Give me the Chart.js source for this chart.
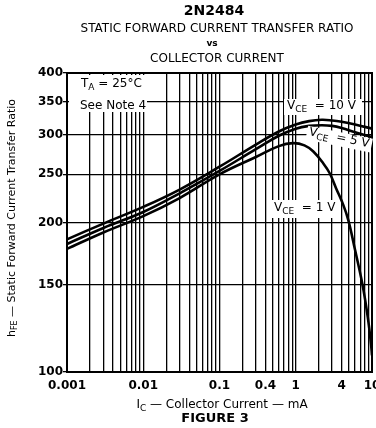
<!DOCTYPE html>
<html>
<head>
<meta charset="utf-8">
<script src="https://cdn.jsdelivr.net/npm/chart.js@4"></script>
<style>
  html, body { margin: 0; padding: 0; background: #fff; }
  canvas { display: block; }
</style>
</head>
<body>
<canvas id="chart" width="376" height="428"></canvas>
<script>
// collector current (mA) and hFE
const currentMain = [0.001, 0.003, 0.01, 0.03, 0.1, 0.3, 0.6, 1, 1.5, 2.2, 3, 4, 6, 10];
const hfeVce10 = [185, 199, 215, 233, 259, 287, 305, 315, 320, 322, 321, 319, 315, 309];
const hfeVce5 = [181, 195, 210, 229, 254, 281, 299, 309, 313, 314, 313, 310, 304, 297];

const currentVce1 = [0.001, 0.003, 0.01, 0.03, 0.1, 0.3, 0.6, 0.92, 1.3, 1.7, 2.3, 2.8, 3.4, 4.2, 4.9, 6, 7.5, 8.8, 9.7, 10];
const hfeVce1 = [177, 191, 206, 224, 250, 271, 285, 289, 286, 278, 263, 251, 234, 217, 202, 176, 150, 129, 114, 108];

const yTicks = [100, 150, 200, 250, 300, 350, 400];
const xLabels = [0.001, 0.01, 0.1, 0.4, 1, 4, 10];

const FONT = '"DejaVu Sans", sans-serif';

const toPoints = (xs, ys) => xs.map((x, i) => ({ x: x, y: ys[i] }));

// text with subscripts: parts = [[text, isSub], ...]
function drawParts(ctx, parts, x, y, size, weight, align) {
  const subSize = Math.round(size * 0.72);
  let total = 0;
  parts.forEach(p => {
    ctx.font = weight + ' ' + (p[1] ? subSize : size) + 'px ' + FONT;
    total += ctx.measureText(p[0]).width;
  });
  let cx = align === 'center' ? x - total / 2 : (align === 'right' ? x - total : x);
  ctx.textAlign = 'left';
  ctx.textBaseline = 'middle';
  parts.forEach(p => {
    ctx.font = weight + ' ' + (p[1] ? subSize : size) + 'px ' + FONT;
    ctx.fillText(p[0], cx, p[1] ? y + size * 0.3 : y);
    cx += ctx.measureText(p[0]).width;
  });
}

const whiteBoxes = {
  id: 'whiteBoxes',
  beforeDatasetsDraw(chart) {
    const ctx = chart.ctx;
    ctx.save();
    ctx.fillStyle = '#fff';
    ctx.fillRect(69, 75, 78, 37);
    ctx.fillRect(284, 99, 78, 16);
    ctx.fillRect(272, 200, 62, 18);
    ctx.restore();
  },
  afterDatasetsDraw(chart) {
    const ctx = chart.ctx;
    const a = chart.chartArea;
    ctx.save();
    ctx.strokeStyle = '#000';
    ctx.lineWidth = 2;
    ctx.strokeRect(a.left, a.top, a.right - a.left, a.bottom - a.top);
    ctx.fillStyle = '#000';

    // labels inside the plot
    drawParts(ctx, [['T', 0], ['A', 1], [' = 25°C', 0]], 81, 84, 12, 'normal', 'left');
    drawParts(ctx, [['See Note 4', 0]], 80, 106, 12, 'normal', 'left');
    drawParts(ctx, [['V', 0], ['CE', 1], ['  = 10 V', 0]], 287, 106, 12, 'normal', 'left');
    drawParts(ctx, [['V', 0], ['CE', 1], ['  = 1 V', 0]], 274, 208, 12, 'normal', 'left');

    // tilted 5 V label with its own white ground
    ctx.translate(309, 132);
    ctx.rotate(0.2);
    ctx.fillStyle = '#fff';
    ctx.fillRect(-2, -6, 66, 14);
    ctx.fillStyle = '#000';
    drawParts(ctx, [['V', 0], ['CE', 1], ['  = 5 V', 0]], 0, 0, 12, 'normal', 'left');
    ctx.restore();
  }
};

const titles = {
  id: 'titles',
  afterDraw(chart) {
    const ctx = chart.ctx;
    ctx.save();
    ctx.fillStyle = '#000';
    drawParts(ctx, [['2N2484', 0]], 214, 11, 14, 'bold', 'center');
    drawParts(ctx, [['STATIC FORWARD CURRENT TRANSFER RATIO', 0]], 217, 29, 12, 'normal', 'center');
    drawParts(ctx, [['vs', 0]], 212, 44, 9, 'bold', 'center');
    drawParts(ctx, [['COLLECTOR CURRENT', 0]], 217, 59, 12, 'normal', 'center');

    drawParts(ctx, [['I', 0], ['C', 1], [' — Collector Current — mA', 0]], 222, 405, 12, 'normal', 'center');
    drawParts(ctx, [['FIGURE 3', 0]], 215, 419, 13, 'bold', 'center');

    ctx.translate(12, 218);
    ctx.rotate(-Math.PI / 2);
    drawParts(ctx, [['h', 0], ['FE', 1], [' — Static Forward Current Transfer Ratio', 0]], 0, 0, 11, 'normal', 'center');
    ctx.restore();
  }
};

const lineStyle = {
  borderColor: '#000',
  borderWidth: 2.6,
  pointRadius: 0,
  fill: false,
  tension: 0.4
};

new Chart(document.getElementById('chart'), {
  type: 'line',
  data: {
    datasets: [
      Object.assign({ label: 'VCE = 10 V', data: toPoints(currentMain, hfeVce10) }, lineStyle),
      Object.assign({ label: 'VCE = 5 V', data: toPoints(currentMain, hfeVce5) }, lineStyle),
      Object.assign({ label: 'VCE = 1 V', data: toPoints(currentVce1, hfeVce1) }, lineStyle)
    ]
  },
  options: {
    responsive: false,
    devicePixelRatio: 1,
    animation: false,
    layout: { padding: { top: 73, right: 4, bottom: 0, left: 0 } },
    plugins: {
      legend: { display: false },
      tooltip: { enabled: false }
    },
    scales: {
      x: {
        type: 'logarithmic',
        min: 0.001,
        max: 10,
        afterFit(scale) {
          scale.height = 56;
          scale.paddingLeft = 0;
          scale.paddingRight = 0;
        },
        afterBuildTicks(scale) {
          const t = [];
          for (let e = -3; e <= 0; e++) {
            for (let m = 1; m <= 9; m++) t.push({ value: +(m * Math.pow(10, e)).toPrecision(3) });
          }
          t.push({ value: 10 });
          scale.ticks = t;
        },
        grid: { color: '#000', lineWidth: 1.3, drawTicks: false },
        border: { display: false },
        ticks: {
          autoSkip: false,
          maxRotation: 0,
          padding: 7,
          color: '#000',
          font: { family: FONT, size: 12, weight: 'bold' },
          callback: (v) => xLabels.includes(v) ? String(v) : ''
        }
      },
      y: {
        type: 'logarithmic',
        min: 100,
        max: 400,
        afterFit(scale) {
          scale.width = 67;
          scale.paddingTop = 0;
          scale.paddingBottom = 0;
        },
        afterBuildTicks(scale) { scale.ticks = yTicks.map(v => ({ value: v })); },
        grid: { color: '#000', lineWidth: 1.3, tickLength: 4 },
        border: { display: false },
        ticks: {
          padding: 0,
          color: '#000',
          font: { family: FONT, size: 12, weight: 'bold' },
          callback: (v) => String(v)
        }
      }
    }
  },
  plugins: [whiteBoxes, titles]
});
</script>
</body>
</html>
